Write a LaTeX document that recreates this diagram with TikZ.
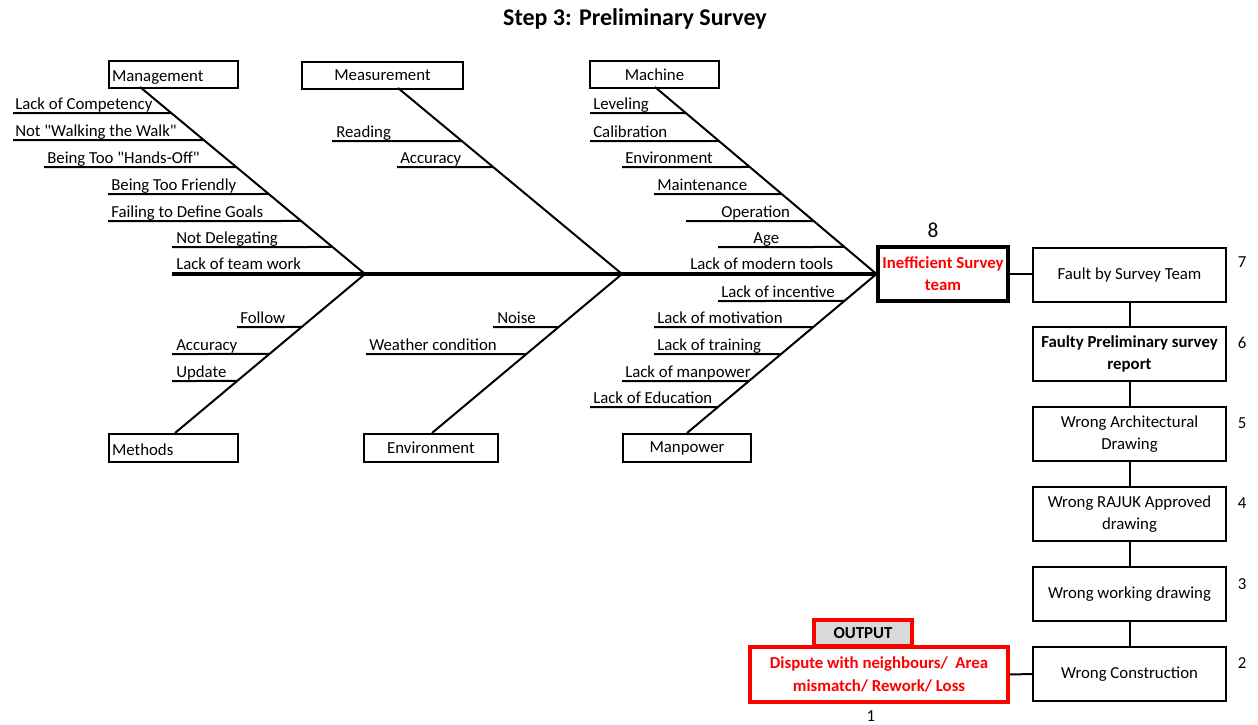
\documentclass[tikz,border=0pt]{standalone}
\usepackage{fontspec}
\setmainfont{Carlito}
\definecolor{alarm}{RGB}{255,0,0}
\definecolor{tabgray}{RGB}{217,217,217}
\newcommand\qt{\textquotedbl}
% one horizontal cause line ending on a diagonal bone, with its label
% #1 name, #2/#3 bone ends, #4 line start x, #5 line y, #6 label x, #7 text
\newcommand\causeline[7]{%
  \coordinate (#1s) at (#4,#5);
  \draw[rib] (#1s) -- (intersection of #2--#3 and #4,#5--1200,#5);
  \node[lbl] (#1) at (#6,{#5-4}) {#7};}
\begin{document}
\begin{tikzpicture}[x=0.75pt,y=-0.75pt,
  rib/.style={line width=1.5pt},
  bone/.style={line width=1.5pt},
  spine/.style={line width=2.3pt},
  lbl/.style={anchor=base west,inner sep=0pt,font=\fontsize{12.6}{15}\selectfont},
  dims/.style n args={2}{minimum width=#1*0.75pt,minimum height=#2*0.75pt},
  catbox/.style={draw,line width=1.5pt,inner sep=0pt,anchor=north west,font=\fontsize{12.6}{15}\selectfont},
  leftcat/.style={catbox,align=left,inner xsep=2.25pt},
  stepbox/.style={draw,line width=1.5pt,dims={193}{54},align=center,inner sep=0pt,
     font=\fontsize{12.6}{17}\selectfont},
  num/.style={inner sep=0pt,font=\fontsize{12.6}{15}\selectfont},
  link/.style={line width=1.5pt}]
\useasboundingbox (0,0) rectangle (1258,725);

\node[inner sep=0pt,font=\bfseries\fontsize{18}{21}\selectfont] (title) at (635,19) {Step 3: Preliminary Survey};

% category boxes
\node[leftcat,text width=92pt,minimum height=27*0.75pt] (mgmt) at (108,60) {\raisebox{-5.5pt}[0pt][0pt]{Management}};
\node[catbox,dims={161}{27}] (meas) at (301,61) {Measurement};
\node[catbox,dims={129}{27}] (mach) at (589,60) {Machine};
\node[leftcat,text width=92pt,minimum height=28*0.75pt] (meth) at (108,433) {\raisebox{-5.5pt}[0pt][0pt]{Methods}};
\node[catbox,dims={134}{28}] (envr) at (363,433) {Environment};
\node[catbox,dims={128}{28}] (manp) at (622,433) {Manpower};

% problem box
\node[draw,line width=2.3pt,dims={130}{54},align=center,inner sep=0pt,text=alarm,
  font=\bfseries\fontsize{12.6}{16.5}\selectfont] (ineff) at (943,274) {Inefficient Survey\\team};
\node[inner sep=0pt,font=\fontsize{16}{18}\selectfont] (n8) at (933,230) {8};

% bone ends
\coordinate (mgT) at (140,87);
\coordinate (msT) at (398,88);
\coordinate (maT) at (655,87);
\coordinate (meB) at (175,433);
\coordinate (enB) at (432,433);
\coordinate (mpB) at (687,433);
\coordinate (mgJ) at (365,274);
\coordinate (msJ) at (622,274);
\coordinate (maJ) at (ineff.west);
\coordinate (tail) at (172,274);

% spine and bones
\draw[spine] (tail) -- (maJ);
\draw[bone] (mgT) -- (mgJ) -- (meB);
\draw[bone] (msT) -- (msJ) -- (enB);
\draw[bone] (maT) -- (maJ) -- (mpB);

% Management
\causeline{mg1}{mgT}{mgJ}{13}{113}{15}{Lack of Competency}
\causeline{mg2}{mgT}{mgJ}{13}{140}{15}{Not \qt Walking the Walk\qt}
\causeline{mg3}{mgT}{mgJ}{44}{167}{47}{Being Too \qt Hands-Off\qt}
\causeline{mg4}{mgT}{mgJ}{108}{194}{111}{Being Too Friendly}
\causeline{mg5}{mgT}{mgJ}{108}{221}{111}{Failing to Define Goals}
\causeline{mg6}{mgT}{mgJ}{172}{247}{176}{Not Delegating}
\node[lbl] (mg7) at (176,269) {Lack of team work};

% Measurement
\causeline{ms1}{msT}{msJ}{332}{141}{336}{Reading}
\causeline{ms2}{msT}{msJ}{397}{167}{400}{Accuracy}

% Machine
\causeline{ma1}{maT}{maJ}{590}{113}{593}{Leveling}
\causeline{ma2}{maT}{maJ}{590}{141}{593}{Calibration}
\causeline{ma3}{maT}{maJ}{622}{167}{625}{Environment}
\causeline{ma4}{maT}{maJ}{654}{194}{657}{Maintenance}
\causeline{ma5}{maT}{maJ}{686}{221}{721}{Operation}
\causeline{ma6}{maT}{maJ}{718}{247}{753}{Age}
\node[lbl] (ma7) at (690,269) {Lack of modern tools};

% Methods
\causeline{me1}{meB}{mgJ}{237}{327}{240}{Follow}
\causeline{me2}{meB}{mgJ}{172}{354}{176}{Accuracy}
\causeline{me3}{meB}{mgJ}{172}{381}{176}{Update}

% Environment
\causeline{en1}{enB}{msJ}{493}{327}{497}{Noise}
\causeline{en2}{enB}{msJ}{366}{354}{369}{Weather condition}

% Manpower
\causeline{mp1}{mpB}{maJ}{718}{301}{721}{Lack of incentive}
\causeline{mp2}{mpB}{maJ}{654}{327}{657}{Lack of motivation}
\causeline{mp3}{mpB}{maJ}{654}{354}{657}{Lack of training}
\causeline{mp4}{mpB}{maJ}{622}{381}{625}{Lack of manpower}
\causeline{mp5}{mpB}{maJ}{590}{407}{593}{Lack of Education}

% chain of consequences
\node[stepbox] (s7) at (1129.5,275) {Fault by Survey Team};
\node[stepbox,font=\bfseries\fontsize{12.6}{17}\selectfont] (s6) at (1129.5,354) {Faulty Preliminary survey\\report};
\node[stepbox] (s5) at (1129.5,434) {Wrong Architectural\\Drawing};
\node[stepbox] (s4) at (1129.5,514) {Wrong RAJUK Approved\\drawing};
\node[stepbox] (s3) at (1129.5,594) {Wrong working drawing};
\node[stepbox] (s2) at (1129.5,674) {Wrong Construction};

\node[num] (n7) at (1242,262) {7};
\node[num] (n6) at (1242,343) {6};
\node[num] (n5) at (1242,423) {5};
\node[num] (n4) at (1242,503) {4};
\node[num] (n3) at (1242,584) {3};
\node[num] (n2) at (1242,663) {2};

% output
\node[draw=alarm,line width=2.3pt,dims={258}{55},align=center,inner sep=0pt,text=alarm,
  font=\bfseries\fontsize{12.6}{17}\selectfont] (out) at (879,674.5) {Dispute with neighbours/\ \ Area\\mismatch/ Rework/ Loss};
\node[draw=alarm,fill=tabgray,line width=2.3pt,dims={98}{26},inner sep=0pt,
  font=\bfseries\fontsize{12.6}{15}\selectfont] (outtab) at (863,633) {OUTPUT};
\node[num] (n1) at (871,716) {1};

\draw[link] (ineff.east) -- (s7.west |- ineff.east);
\draw[link] (s7) -- (s6);
\draw[link] (s6) -- (s5);
\draw[link] (s5) -- (s4);
\draw[link] (s4) -- (s3);
\draw[link] (s3) -- (s2);
\draw[link] (out.east) -- (s2.west);
\end{tikzpicture}
\end{document}
